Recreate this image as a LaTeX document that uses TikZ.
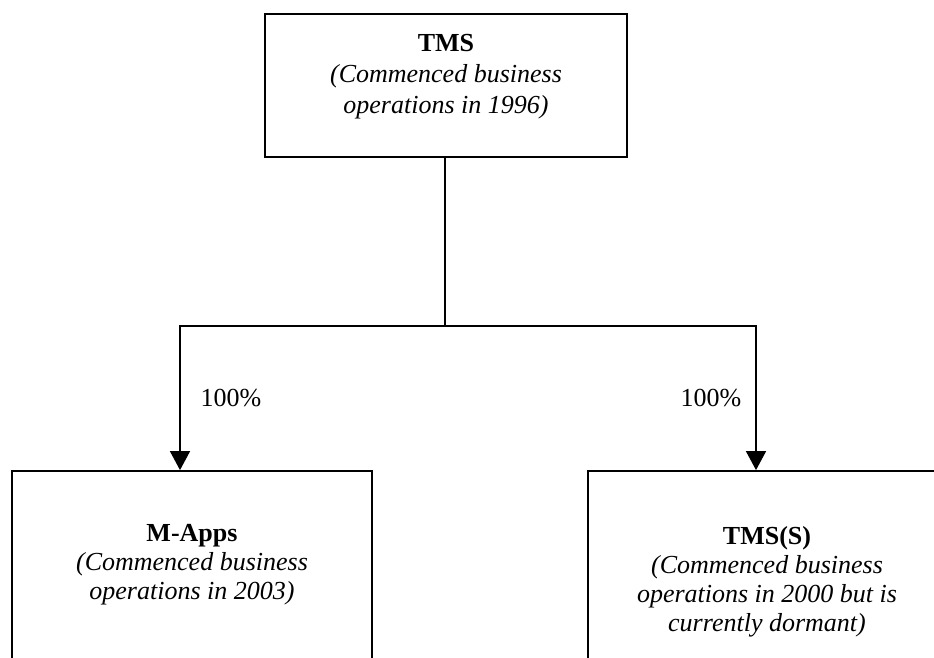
\documentclass[tikz,border=0pt]{standalone}
\usepackage{fontspec}
\setmainfont{Liberation Serif}
\usetikzlibrary{positioning,arrows.meta}
\tikzset{
% Boxes for the companies, their captions and the holding lines
company box/.style={draw,line width=1.8pt,inner sep=0pt},
company text/.style={align=center,inner sep=0pt,font=\fontsize{26}{29}\selectfont},
share/.style={line width=1.4pt},
share arrow/.style={share,-{Triangle[width=20pt,length=19pt]}},
share label/.style={inner sep=0pt,font=\fontsize{26}{29}\selectfont}
}

\begin{document}
\begin{tikzpicture}[x=1pt,y=-1pt]
      % Page frame
      \useasboundingbox (0,0) rectangle (934,657);
      \clip (0,0) rectangle (934,657);
      % The companies
      \node(tms)[company box,minimum width=362pt,minimum height=143pt] at (446,85.5){};
      \node(mapps)[company box,minimum width=360pt,minimum height=230pt] at (192,586){};
      \node(tmss)[company box,minimum width=358pt,minimum height=230pt] at (767,586){};
      % Captions inside the boxes
      \node(tms text)[company text,font=\fontsize{26}{31}\selectfont,below=21pt of tms.north]{\textbf{TMS}\\
        \textit{(Commenced business}\\\textit{operations in 1996)}};
      \node(mapps text)[company text,below=54pt of mapps.north]{\textbf{M-Apps}\\
        \textit{(Commenced business}\\\textit{operations in 2003)}};
      \node(tmss text)[company text,below=56pt of tmss.north]{\textbf{TMS(S)}\\
        \textit{(Commenced business}\\\textit{operations in 2000 but is}\\
        \textit{currently dormant)}};
      % Holding lines
      \coordinate (split) at (445,326);
      \coordinate (left turn) at (180,326);
      \coordinate (right turn) at (756,326);
      \draw[share] (tms.south -| split) -- (split);
      \draw[share arrow] (split) -- (left turn) -- (left turn |- mapps.north)
        node[midway,right=20pt,share label]{100\%};
      \draw[share arrow] (split) -- (right turn) -- (right turn |- tmss.north)
        node[midway,left=14pt,share label]{100\%};
    \end{tikzpicture}
\end{document}
